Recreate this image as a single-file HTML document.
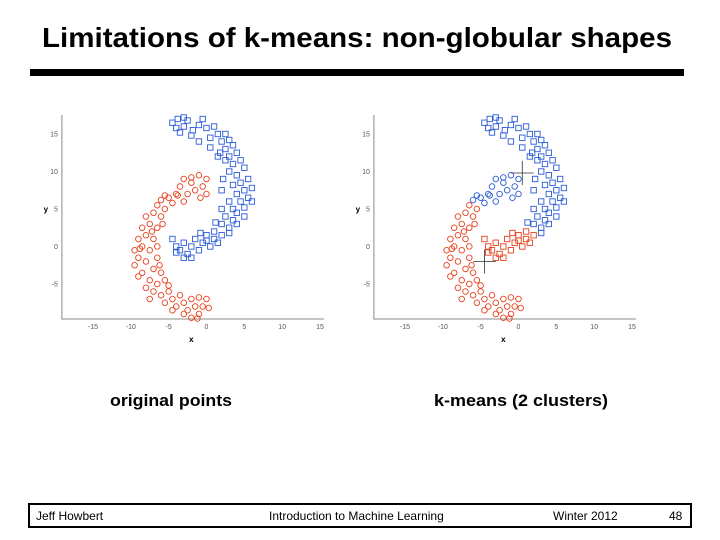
<!DOCTYPE html>
<html><head><meta charset="utf-8"><style>
html,body{margin:0;padding:0;background:#fff;}
svg{display:block;font-family:"Liberation Sans",sans-serif;}
</style></head><body>
<svg id="slide" width="720" height="540" viewBox="0 0 720 540" xmlns="http://www.w3.org/2000/svg">
<text x="42" y="47" font-size="28" font-weight="bold" textLength="630" lengthAdjust="spacingAndGlyphs">Limitations of k-means: non-globular shapes</text>
<rect x="30" y="69" width="654" height="7" fill="#000"/>
<g id="plot-left"></g>
<g id="plot-right"></g>
<text x="110" y="406" font-size="17" font-weight="bold" textLength="122" lengthAdjust="spacingAndGlyphs">original points</text>
<text x="434" y="406" font-size="17" font-weight="bold" textLength="174" lengthAdjust="spacingAndGlyphs">k-means (2 clusters)</text>
<rect x="29" y="504" width="662" height="23" fill="none" stroke="#000" stroke-width="2"/>
<text x="36" y="520" font-size="12">Jeff Howbert</text>
<text x="269" y="520" font-size="12">Introduction to Machine Learning</text>
<text x="553" y="520" font-size="12">Winter 2012</text>
<text x="669" y="520" font-size="12">48</text>
</svg>
<script>
const blueShape = [[-4.5,16.5],[-3.8,17],[-3,16],[-2.5,16.8],[-1.8,15.5],[-1,16.2],[-0.5,17],[0,15.8],[-3.5,15.2],[-2,14.8],[-1,14],[0.5,14.5],[1,16],[1.5,15],[2,14],[2.5,15],[3,14.2],[2.5,13],[3.5,13.5],[1.8,12.5],[3,12],[4,12.5],[2.5,11.5],[3.5,11],[4.5,11.5],[5,10.5],[3,10],[4,9.5],[5.5,9],[4.5,8.5],[3.5,8.2],[5,7.5],[6,7.8],[4,7],[5.5,6.5],[3,6],[4.5,6],[6,6],[3.5,5],[5,5.2],[2,5],[4,4.5],[2.5,4],[5,4],[3.5,3.5],[2,3],[4,3],[3,2.5],[1,2],[2,1.5],[3,1.8],[0,1.5],[1,1],[-0.5,0.5],[0.5,0],[-1.5,1],[-2,0],[-1,-0.5],[-3,0.5],[-2.5,-1],[-4,0],[-4.5,1],[-3.5,-0.5],[-2,-1.5],[-3,-1.5],[-4,-0.8],[0,0.8],[1.5,0.5],[-0.8,1.8],[1.2,3.2],[1.5,12],[0.5,13.2],[-4,15.8],[-3,17.2],[2.2,9],[2,7.5]];
const redShape = [[0,9],[-1,9.5],[-2,8.5],[-0.5,8],[-1.5,7.5],[-3,9],[-2.5,7],[0,7],[-3.5,8],[-4,7],[-5,6.5],[-4.5,5.8],[-3,6],[-6,6.2],[-5.5,5],[-6.5,5.5],[-7,4.5],[-6,4],[-8,4],[-7.5,3],[-6.5,2.5],[-8.5,2.5],[-8,1.5],[-7,1],[-9,1],[-6.5,0],[-8.5,0],[-9.5,-0.5],[-7.5,-0.5],[-9,-1.5],[-8,-2],[-6.5,-1.5],[-9.5,-2.5],[-7,-3],[-8.5,-3.5],[-6,-3.5],[-9,-4],[-7.5,-4.5],[-8,-5.5],[-6.5,-5],[-5.5,-4.5],[-7,-6],[-6,-6.5],[-5,-6],[-7.5,-7],[-5.5,-7.5],[-4.5,-7],[-4,-8],[-3.5,-6.5],[-3,-7.5],[-2.5,-8.5],[-2,-7],[-1.5,-8],[-2,-9.5],[-1,-9],[-0.5,-8],[0,-7],[0.3,-8.2],[-1,-6.8],[-3,-9],[-4.5,-8.5],[-8.8,-0.3],[-5.8,3],[-7.2,2],[-5.5,6.8],[-2,9.2],[-0.8,6.5],[-6.2,-2.5],[-5,-5.2],[-3.8,6.8],[-1.2,-9.6]];
const centroids = [[0.5,9.8],[-4.5,-2]];
const xTicks = [-15,-10,-5,0,5,10,15];
const yTicks = [-5,0,5,10,15];
const BLUE = '#2a5bd7', RED = '#e8401c';
const NS = 'http://www.w3.org/2000/svg';
function mk(tag, attrs, parent){const e=document.createElementNS(NS,tag);for(const k in attrs)e.setAttribute(k,attrs[k]);parent.appendChild(e);return e;}
function drawPlot(g, x0, kmeans){
  const sx = v => x0 + v*7.57;
  const sy = v => 246.5 - v*7.5;
  const left = sx(-19.1), bottom = 319, top = 115, right = sx(15.5);
  const ax = mk('path',{d:`M${left},${top}V${bottom}H${right}`,stroke:'#888',fill:'none','stroke-width':1},g);
  
  
  xTicks.forEach(t=>{const tx=mk('text',{x:sx(t),y:bottom+10,'font-size':7,'text-anchor':'middle',fill:'#555'},g);tx.textContent=t;
    
    });
  yTicks.forEach(t=>{const tx=mk('text',{x:left-4,y:sy(t)+2.5,'font-size':7,'text-anchor':'end',fill:'#555'},g);tx.textContent=t;
    
    });
  const xl=mk('text',{x:sx(-2),y:bottom+23,'font-size':8,'font-weight':'bold','text-anchor':'middle'},g);xl.textContent='x';
  
  
  const yl=mk('text',{x:left-16,y:sy(5)+3,'font-size':8,'font-weight':'bold','text-anchor':'middle'},g);yl.textContent='y';
  
  
  function colorOf(p, base){
    if(!kmeans) return base;
    const d0=(p[0]-centroids[0][0])**2+(p[1]-centroids[0][1])**2;
    const d1=(p[0]-centroids[1][0])**2+(p[1]-centroids[1][1])**2;
    return d0<d1?BLUE:RED;
  }
  redShape.forEach(p=>{const c=mk('circle',{cx:sx(p[0]),cy:sy(p[1]),r:2.8,fill:'none',stroke:colorOf(p,RED),'stroke-width':0.9},g);
    
    });
  blueShape.forEach(p=>{const c=mk('rect',{x:sx(p[0])-2.7,y:sy(p[1])-2.7,width:5.4,height:5.4,fill:'none',stroke:colorOf(p,BLUE),'stroke-width':0.9},g);
    
    });
  if(kmeans){
    centroids.forEach(c=>{const m=mk('path',{d:`M${sx(c[0]-1.5)},${sy(c[1])}H${sx(c[0]+1.5)}M${sx(c[0])},${sy(c[1]+1.6)}V${sy(c[1]-1.6)}`,stroke:'#333','stroke-width':0.8},g);
      
      });
  }
}
drawPlot(document.getElementById('plot-left'), 206.5, false);
drawPlot(document.getElementById('plot-right'), 518.5, true);
</script>
</body></html>
